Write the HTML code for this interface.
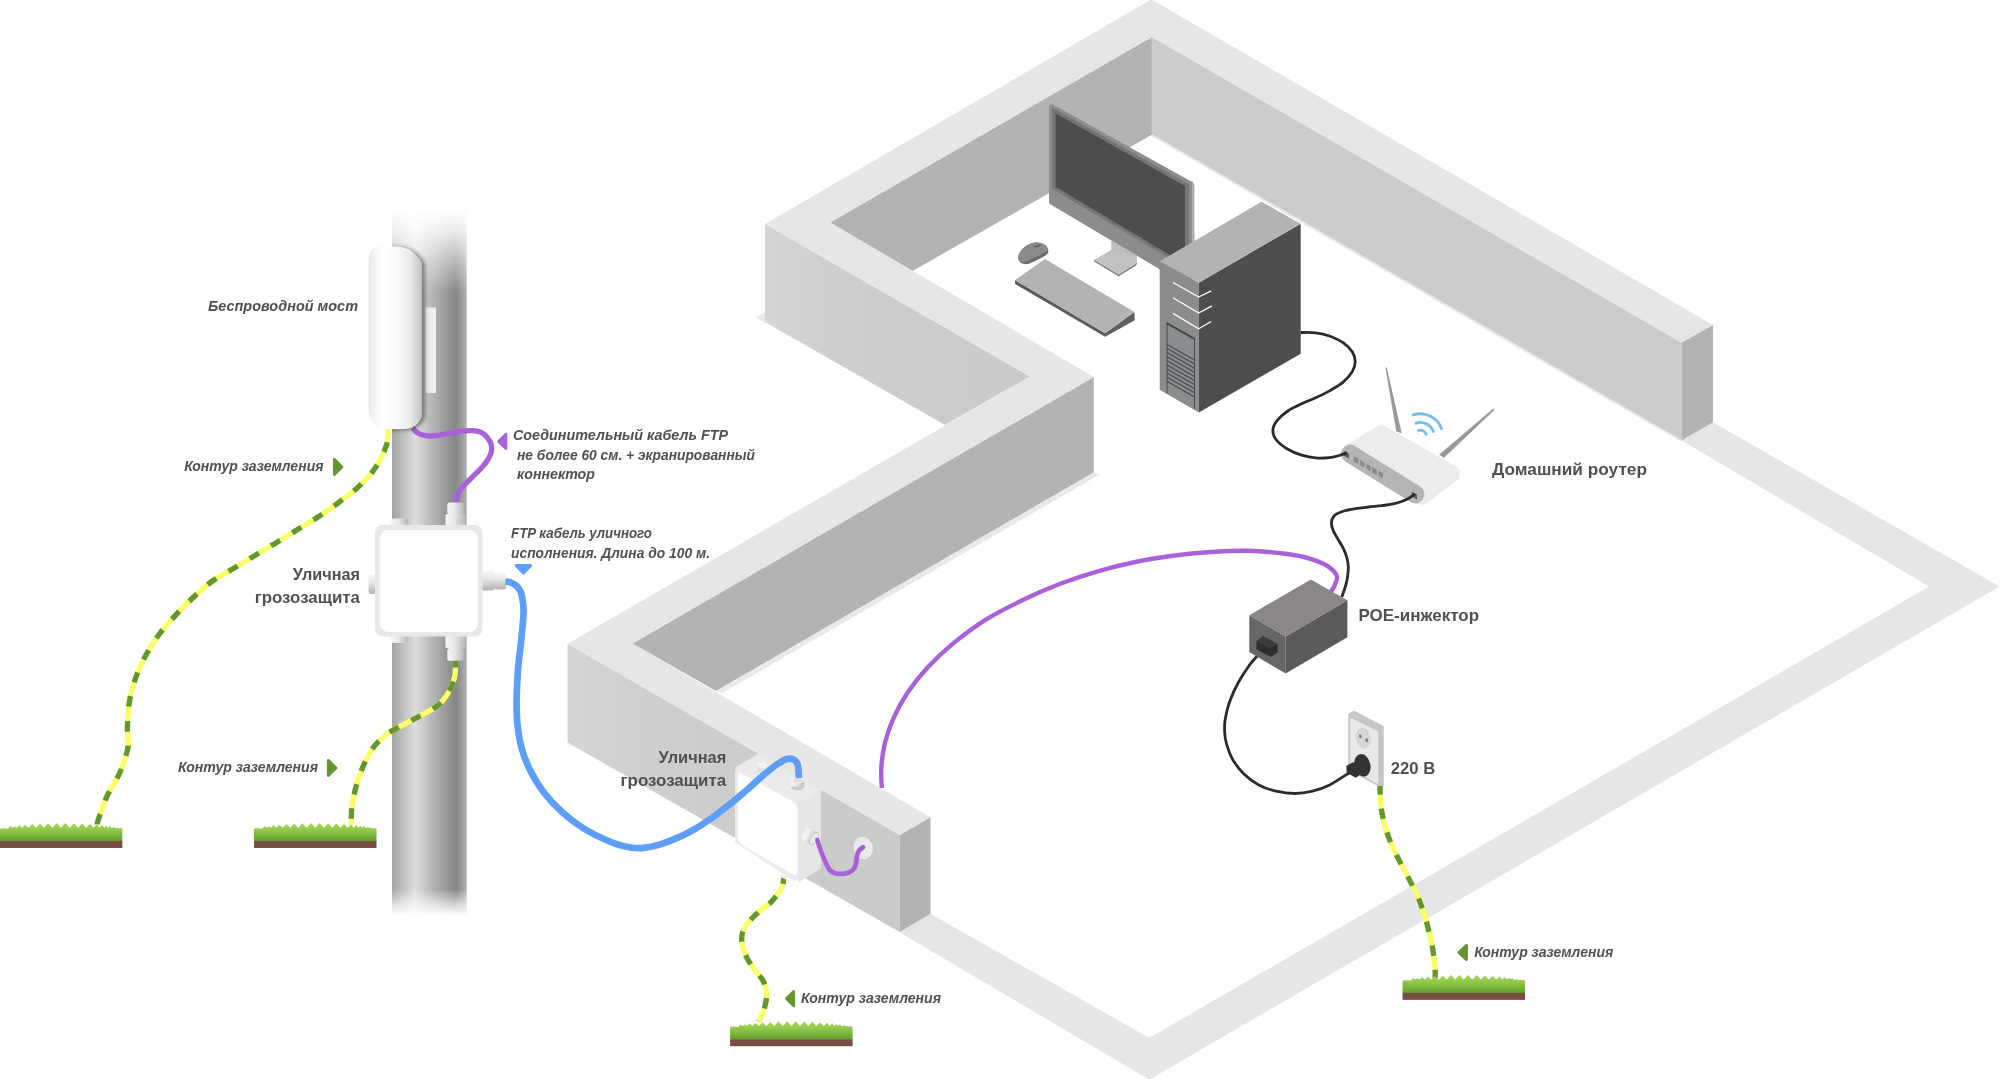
<!DOCTYPE html>
<html><head><meta charset="utf-8"><title>diagram</title>
<style>html,body{margin:0;padding:0;background:#fff;overflow:hidden}svg{display:block}</style></head>
<body>
<svg width="2000" height="1079" viewBox="0 0 2000 1079" font-family="Liberation Sans, sans-serif">
<rect width="2000" height="1079" fill="#ffffff"/>
<g id="walls"><polygon points="899.0,932.0 1149.2,1079.6 1999.5,586.6 1713.0,422.2 1681.5,440.5 1929.2,586.6 1149.2,1037.9 930.5,913.7" fill="#e6e6e6" />
<polygon points="755.8,317.4 765.5,311.8 765.5,323.0" fill="#e9e9e9" />
<polygon points="830.0,222.5 1151.9,37.0 1151.9,134.8 912.5,271.0" fill="#b3b3b3" />
<polygon points="1151.9,37.0 1681.5,342.4 1681.5,440.5 1151.9,134.8" fill="#cccccc" />
<polygon points="1681.5,342.4 1713.0,324.9 1713.0,422.2 1681.5,440.5" fill="#b3b3b3" />
<path d="M1151.9,135.3 L1681.5,441" stroke="#e9e9e9" stroke-width="2" fill="none"/>
<defs><linearGradient id="wc" gradientUnits="userSpaceOnUse" x1="765" x2="1030" y1="0" y2="0"><stop offset="0" stop-color="#d5d5d5"/><stop offset="0.3" stop-color="#cecece"/><stop offset="1" stop-color="#cacaca"/></linearGradient><linearGradient id="we" gradientUnits="userSpaceOnUse" x1="567" x2="900" y1="0" y2="0"><stop offset="0" stop-color="#d5d5d5"/><stop offset="0.3" stop-color="#cecece"/><stop offset="1" stop-color="#cacaca"/></linearGradient></defs>
<polygon points="765.0,224.0 1030.0,376.5 945.0,425.0 765.0,322.0" fill="url(#wc)" />
<polygon points="1093.8,377.0 1093.8,472.4 716.0,691.0 632.5,643.5" fill="#b3b3b3" />
<polygon points="1093.8,472.4 1099.8,474.6 722.0,693.2 716.0,691.0" fill="#e9e9e9" />
<polygon points="567.5,643.7 899.8,835.0 899.8,932.0 567.5,742.5" fill="url(#we)" />
<polygon points="899.8,835.0 930.5,817.3 930.5,913.7 899.8,932.0" fill="#b3b3b3" />
<polygon points="1151.3,-0.6 1713.0,324.9 1681.5,342.4 1151.9,37.0 830.0,222.5 1093.8,377.0 632.5,643.5 930.5,817.3 899.8,835.0 567.5,643.7 1030.0,376.5 765.0,224.0" fill="#e6e6e6" /></g>
<g id="indoor">
<polygon points="1051.5,106.7 1190.1,183.8 1190.1,284.4 1051.5,202.1" fill="#8c8c8c" stroke="#8c8c8c" stroke-width="5" stroke-linejoin="round"/>
<path d="M1191,181.5 Q1193.6,183 1193.6,186.5 L1193.6,288" stroke="#a3a3a3" stroke-width="1.6" fill="none"/>
<polygon points="1052.6,108.2 1188.6,184.8 1188.6,269.3 1052.6,188.5" fill="#737876" stroke="#737876" stroke-width="1" stroke-linejoin="round"/>
<polygon points="1055.6,113.2 1185.0,186.1 1185.0,264.1 1055.6,187.0" fill="#4d4d4d" />
<polygon points="1111.3,240.5 1136.6,255.5 1136.6,263.0 1111.3,250.0" fill="#bdbdbd" />
<path d="M1094.1,259.8 L1094.1,261.4 L1118.7,276.2 L1135.6,265.8 Q1136.8,265 1136.8,263.6 L1136.6,262 L1118.7,274.6 Z" fill="#777777"/>
<path d="M1094.1,259.8 L1111.3,250 L1136.6,255.8 L1136.6,262.2 Q1136.6,263.5 1135.4,264.3 L1118.7,274.7 Z" fill="#c2c2c2"/>
<path d="M1018.3,258.5 C1018,252 1025,244.5 1034,242.8 C1041,241.8 1047.5,245 1048.2,250 L1048.2,252.8 C1046,256.5 1036,260.5 1029,263.8 C1024,265.2 1018.5,262.8 1018.3,258.5 Z" fill="#6b6b6b"/>
<path d="M1018.3,258.5 C1018,252 1025,244.5 1034,242.8 C1041,241.8 1047.5,245 1048.2,250 C1046,253.2 1038,255.5 1032,258.8 C1028,261 1026,262 1023,262 C1020,261.7 1018.5,260.5 1018.3,258.5 Z" fill="#8a8a8a"/>
<path d="M1035,246.8 L1039.8,245.2" stroke="#606060" stroke-width="1.6" stroke-linecap="round"/>
<polygon points="1015.1,280.1 1105.1,333.3 1105.1,336.7 1015.1,284.0" fill="#5a5a5a" />
<polygon points="1105.1,333.3 1134.4,312.0 1134.8,320.3 1105.1,336.7" fill="#5f5f5f" />
<polygon points="1015.1,280.1 1045.0,259.0 1134.4,312.0 1105.1,333.3" fill="#b3b3b3" />
<polygon points="1159.7,261.3 1198.8,282.7 1198.8,412.5 1159.7,389.8" fill="#8c8c8c" />
<polygon points="1198.8,282.7 1300.7,223.7 1300.7,353.7 1198.8,412.5" fill="#4d4d4d" />
<polygon points="1159.7,261.3 1261.5,201.7 1300.7,223.7 1198.8,282.7" fill="#b3b3b3" />
<path d="M1173,282.5 L1198.7,297.1 L1211.2,290.9" stroke="#ffffff" stroke-width="1.3" fill="none"/>
<path d="M1173,297.8 L1198.7,313.1 L1211.9,305.9" stroke="#ffffff" stroke-width="1.3" fill="none"/>
<path d="M1173,313.4 L1198.7,328.7 L1211.2,321.5" stroke="#ffffff" stroke-width="1.3" fill="none"/>
<path d="M1167.1,393.1 L1167.1,322.8 M1194.5,338.4 L1194.5,409.1" stroke="#3b4a52" stroke-width="0.9" fill="none"/>
<path d="M1166.7,323.2 L1194.9,339.2" stroke="#3b4a52" stroke-width="2" fill="none"/>
<path d="M1167.1,344.4 L1194.5,360.0" stroke="#3b4a52" stroke-width="1.15"/>
<path d="M1167.1,348.5 L1194.5,364.1" stroke="#3b4a52" stroke-width="1.15"/>
<path d="M1167.1,352.6 L1194.5,368.2" stroke="#3b4a52" stroke-width="1.15"/>
<path d="M1167.1,356.7 L1194.5,372.3" stroke="#3b4a52" stroke-width="1.15"/>
<path d="M1167.1,360.8 L1194.5,376.4" stroke="#3b4a52" stroke-width="1.15"/>
<path d="M1167.1,364.9 L1194.5,380.5" stroke="#3b4a52" stroke-width="1.15"/>
<path d="M1167.1,369.0 L1194.5,384.6" stroke="#3b4a52" stroke-width="1.15"/>
<path d="M1167.1,373.1 L1194.5,388.7" stroke="#3b4a52" stroke-width="1.15"/>
<path d="M1167.1,377.2 L1194.5,392.8" stroke="#3b4a52" stroke-width="1.15"/>
<path d="M1167.1,381.3 L1194.5,396.9" stroke="#3b4a52" stroke-width="1.15"/>
<polygon points="1385.4,367.8 1386.8,367.6 1401.8,433.6 1396.2,431.2" fill="#999999" />
<polygon points="1493.4,408.4 1494.6,409.8 1443.8,458.0 1439.2,454.6" fill="#999999" />
<polygon points="1350.5,447.8 1381.5,429.8 1454.5,471.3 1454.5,476.0 1423.0,499.8 1350.5,458.0" fill="#ebeceb" stroke="#ebeceb" stroke-width="10" stroke-linejoin="round"/>
<path d="M1350,453.7 L1415.3,494.3" stroke="#b5b5b5" stroke-width="18.2" stroke-linecap="round" fill="none"/>
<polygon points="1353.8,456.2 1358.4,458.8 1358.4,464.2 1353.8,461.6" fill="#8c8c8c" />
<polygon points="1360.0,459.8 1364.5,462.4 1364.5,467.8 1360.0,465.2" fill="#8c8c8c" />
<polygon points="1366.1,463.4 1370.7,466.0 1370.7,471.4 1366.1,468.8" fill="#8c8c8c" />
<polygon points="1372.2,467.0 1376.8,469.6 1376.8,475.0 1372.2,472.4" fill="#8c8c8c" />
<polygon points="1378.4,470.6 1383.0,473.2 1383.0,478.6 1378.4,476.0" fill="#8c8c8c" />
<polygon points="1343.8,451.2 1349.0,454.0 1349.0,458.6 1343.8,455.8" fill="#5a5a5a" />
<polygon points="1411.8,491.8 1417.0,494.6 1417.0,499.4 1411.8,496.6" fill="#5a5a5a" />
<path d="M1418.4,430.4 A6.3,6.3 0 0 1 1426.2,434.2" stroke="#72bff0" stroke-width="2.8" stroke-linecap="round" fill="none"/>
<path d="M1416.0,423.2 A13.9,13.9 0 0 1 1433.4,431.6" stroke="#72bff0" stroke-width="2.8" stroke-linecap="round" fill="none"/>
<path d="M1413.3,414.9 A22.6,22.6 0 0 1 1441.5,428.7" stroke="#72bff0" stroke-width="2.8" stroke-linecap="round" fill="none"/>
<path d="M1330.5,592.0 C1331.1,591.0 1333.1,588.9 1334.2,586.3 C1335.3,583.7 1337.9,579.6 1336.9,576.3 C1335.9,573.0 1332.4,569.2 1328.0,566.3 C1323.6,563.4 1317.6,560.9 1310.5,558.8 C1303.4,556.7 1295.8,555.1 1285.4,553.8 C1275.0,552.5 1260.4,551.1 1247.9,550.8 C1235.4,550.5 1222.9,551.2 1210.4,552.0 C1197.9,552.8 1185.3,554.1 1172.8,555.8 C1160.3,557.5 1147.8,559.4 1135.3,562.0 C1122.8,564.6 1110.2,567.7 1097.7,571.3 C1085.2,574.9 1072.7,579.0 1060.2,583.8 C1047.7,588.6 1035.2,594.0 1022.7,600.1 C1010.2,606.2 996.8,612.8 985.1,620.1 C973.4,627.4 962.2,636.0 952.6,643.9 C943.0,651.8 935.1,659.5 927.6,667.6 C920.1,675.7 913.1,684.4 907.5,692.7 C901.9,701.1 897.5,709.4 893.8,717.7 C890.0,726.0 887.1,734.4 885.0,742.7 C882.9,751.0 881.8,760.2 881.3,767.7 C880.8,775.2 881.7,784.6 881.8,788.0" stroke="#a961da" stroke-width="4.4" fill="none"/>
<path d="M1300.5,332.5 C1303.0,332.6 1310.8,332.2 1315.6,332.8 C1320.4,333.4 1324.9,334.3 1329.5,336.0 C1334.1,337.7 1339.6,340.2 1343.4,342.9 C1347.2,345.6 1350.4,348.9 1352.4,352.0 C1354.4,355.1 1355.2,358.5 1355.2,361.7 C1355.2,364.9 1354.4,368.0 1352.4,371.4 C1350.4,374.8 1347.2,378.6 1343.4,381.9 C1339.6,385.1 1334.1,388.2 1329.5,390.9 C1324.9,393.5 1320.2,395.7 1315.6,397.8 C1311.0,399.9 1306.3,401.5 1301.7,403.7 C1297.1,405.9 1291.8,408.3 1287.8,411.0 C1283.8,413.7 1279.9,417.0 1277.4,420.1 C1274.9,423.2 1273.1,426.6 1272.9,429.8 C1272.7,433.0 1273.5,436.2 1276.0,439.5 C1278.5,442.8 1283.5,446.7 1287.8,449.3 C1292.1,451.9 1297.1,453.7 1301.7,455.1 C1306.3,456.5 1311.0,457.5 1315.6,457.9 C1320.2,458.3 1325.6,458.0 1329.5,457.6 C1333.4,457.2 1336.3,456.4 1339.2,455.5 C1342.1,454.6 1345.7,453.0 1347.0,452.5" stroke="#2b2b2b" stroke-width="2.8" fill="none"/><path d="M1415.0,493.8 C1413.5,494.8 1409.5,498.2 1406.0,499.8 C1402.5,501.4 1398.4,502.7 1394.3,503.7 C1390.2,504.7 1385.7,505.1 1381.4,505.7 C1377.1,506.2 1372.7,506.5 1368.4,507.0 C1364.1,507.5 1359.7,507.9 1355.4,508.7 C1351.1,509.4 1346.0,510.3 1342.4,511.5 C1338.8,512.7 1335.8,514.0 1334.0,516.0 C1332.2,518.0 1331.5,520.7 1331.4,523.2 C1331.3,525.7 1332.2,528.2 1333.4,531.0 C1334.6,533.8 1336.8,537.0 1338.5,540.0 C1340.2,543.0 1342.3,546.2 1343.7,549.2 C1345.1,552.2 1346.2,555.2 1347.0,558.2 C1347.8,561.2 1348.2,564.3 1348.3,567.3 C1348.4,570.3 1348.0,573.4 1347.6,576.4 C1347.2,579.4 1346.7,582.1 1345.7,585.5 C1344.7,588.9 1342.5,595.1 1341.8,597.0" stroke="#2b2b2b" stroke-width="2.8" fill="none"/><path d="M1259.6,653.4 C1257.9,655.4 1253.0,660.4 1249.4,665.2 C1245.9,670.1 1241.6,676.5 1238.3,682.5 C1235.0,688.5 1231.9,695.4 1229.7,701.4 C1227.5,707.4 1226.2,713.7 1225.3,718.7 C1224.4,723.7 1224.4,727.1 1224.6,731.3 C1224.8,735.5 1225.1,739.2 1226.5,743.9 C1227.9,748.6 1229.9,754.7 1232.8,759.7 C1235.7,764.7 1239.6,769.7 1243.9,773.9 C1248.2,778.1 1253.4,782.0 1258.8,784.9 C1264.2,787.8 1270.1,789.8 1276.1,791.2 C1282.1,792.6 1289.0,793.5 1295.0,793.5 C1301.0,793.5 1306.6,792.6 1312.4,791.2 C1318.2,789.8 1323.6,787.9 1329.7,784.9 C1335.8,781.9 1345.8,775.0 1349.0,773.0" stroke="#2b2b2b" stroke-width="2.8" fill="none"/>
<polygon points="1249.3,615.2 1285.6,636.5 1285.6,673.6 1249.3,652.1" fill="#666666" />
<polygon points="1285.6,636.5 1347.4,600.2 1347.4,637.3 1285.6,673.6" fill="#5a5a5a" />
<polygon points="1249.3,615.2 1310.8,579.4 1347.4,600.2 1285.6,636.5" fill="#8a8786" />
<polygon points="1256.4,641.5 1263.0,636.3 1277.6,644.0 1277.6,652.8 1270.6,656.8 1256.4,649.3" fill="#2e2e2e" />
<polygon points="1256.4,641.5 1263.0,636.3 1277.6,644.0 1270.6,648.6" fill="#3c3c3c" />
<polygon points="1350.5,715.2 1353.8,713.0 1381.5,727.6 1381.5,785.4 1350.5,768.8" fill="#c6c6c6" stroke="#c6c6c6" stroke-width="4.5" stroke-linejoin="round"/>
<polygon points="1351.7,719.8 1376.8,732.6 1376.8,782.0 1351.7,767.5" fill="#e8e8e8" stroke="#e8e8e8" stroke-width="3" stroke-linejoin="round"/>
<ellipse cx="1363.3" cy="738.2" rx="7.4" ry="10.3" fill="#d6d6d6" transform="rotate(-10 1363.3 738.2)"/>
<ellipse cx="1360.3" cy="736.3" rx="1.3" ry="1.9" fill="#7a7a7a" transform="rotate(-20 1360.3 736.3)"/><ellipse cx="1366.7" cy="740.2" rx="1.3" ry="1.9" fill="#7a7a7a" transform="rotate(-20 1366.7 740.2)"/>
<ellipse cx="1362.4" cy="765.3" rx="8" ry="11.4" fill="#333333" transform="rotate(-12 1362.4 765.3)"/>
<polygon points="1346.3,766.0 1352.8,762.2 1360.0,765.5 1359.0,775.6 1355.8,777.8 1346.7,772.8" fill="#333333" />
</g>
<g id="wallbox">
<defs><linearGradient id="wcg" x1="0" x2="1" y1="0" y2="0">
<stop offset="0" stop-color="#f6f6f6"/><stop offset="0.45" stop-color="#e4e4e4"/><stop offset="1" stop-color="#bcbcbc"/>
</linearGradient></defs>
<ellipse cx="863.3" cy="848" rx="9.6" ry="11.2" fill="#ebebeb" transform="rotate(-12 863.3 848)"/>
<polygon points="737.5,767.5 758.6,755.0 820.0,790.8 798.0,803.5" fill="#eaeaea" stroke="#eaeaea" stroke-width="2.5" stroke-linejoin="round"/>
<polygon points="798.0,804.4 820.0,791.2 820.0,868.0 799.0,881.0" fill="#e6e6e6" stroke="#e6e6e6" stroke-width="2" stroke-linejoin="round"/>
<rect x="757.2" y="765" width="10.2" height="5" fill="#e2e2e2"/>
<ellipse cx="762.3" cy="770" rx="5.1" ry="2.4" fill="#e2e2e2"/>
<ellipse cx="762.3" cy="765.3" rx="5.1" ry="2.9" fill="#f4f4f4"/>
<polygon points="738.5,771.0 794.5,803.5 794.5,877.0 738.5,840.5" fill="#ebebeb" stroke="#ebebeb" stroke-width="7" stroke-linejoin="round"/>
<path d="M738.2,776.5 Q738.2,771.5 742,773.8 L792.5,801.3 Q797.6,804.3 797.6,810 L797.6,869.5 Q797.6,877.5 791.5,873.5 L744,846.5 Q738.2,843 738.2,836.5 Z" fill="#ffffff"/>
<ellipse cx="783.5" cy="876.5" rx="3.6" ry="2" fill="#ededed"/>
<ellipse cx="797.6" cy="786.8" rx="6.6" ry="3.4" fill="#c9c9c9"/>
<rect x="791" y="780" width="13.2" height="6.8" fill="url(#wcg)"/>
<ellipse cx="797.6" cy="780" rx="6.6" ry="3.4" fill="#f0f0f0"/>
<ellipse cx="797.6" cy="780.2" rx="4.6" ry="2.3" fill="#dcdcdc"/>
<g transform="rotate(28 811 837)"><rect x="804.5" y="830.2" width="10" height="13.6" rx="1.5" fill="url(#wcg)"/><ellipse cx="814.5" cy="837" rx="3.4" ry="6.8" fill="#e9e9e9" stroke="#c2c2c2" stroke-width="0.8"/><ellipse cx="805" cy="837" rx="3" ry="6.8" fill="#f2f2f2"/></g>
<path d="M817.3,840.1 C818.1,842.5 820.1,849.3 822.3,854.4 C824.5,859.5 827.1,867.5 830.5,870.7 C833.9,873.9 838.8,874.1 842.7,873.8 C846.6,873.5 851.5,872.3 854.0,868.7 C856.5,865.1 856.5,855.9 858.0,852.3 C859.5,848.7 862.2,848.1 863.1,847.3" stroke="#a961da" stroke-width="4.7" fill="none" stroke-linecap="round"/>
</g>
<g id="pole"><defs>
<linearGradient id="poleg" x1="0" x2="1" y1="0" y2="0">
<stop offset="0" stop-color="#a3a3a3"/>
<stop offset="0.12" stop-color="#b9b9b9"/>
<stop offset="0.31" stop-color="#dedede"/>
<stop offset="0.50" stop-color="#bcbcbc"/>
<stop offset="0.845" stop-color="#868686"/>
<stop offset="0.93" stop-color="#9a9a9a"/>
<stop offset="1" stop-color="#b0b0b0"/>
</linearGradient>
<linearGradient id="polem" x1="0" x2="0" y1="209" y2="916" gradientUnits="userSpaceOnUse">
<stop offset="0" stop-color="#000"/>
<stop offset="0.03" stop-color="#2a2a2a"/>
<stop offset="0.075" stop-color="#9a9a9a"/>
<stop offset="0.118" stop-color="#fff"/>
<stop offset="0.962" stop-color="#fff"/>
<stop offset="0.985" stop-color="#555"/>
<stop offset="1" stop-color="#000"/>
</linearGradient>
<mask id="polemask" maskUnits="userSpaceOnUse" x="380" y="200" width="100" height="730">
<rect x="380" y="200" width="100" height="730" fill="url(#polem)"/>
</mask>
</defs>
<rect x="392" y="209" width="74.7" height="707" fill="url(#poleg)" mask="url(#polemask)"/></g>
<g id="cables" stroke-linecap="butt">
<path d="M412.5,428.0 C413.5,428.9 415.9,432.2 418.5,433.5 C421.1,434.8 424.7,435.6 427.8,435.9 C430.9,436.2 433.7,435.8 437.1,435.4 C440.5,435.0 444.4,434.1 448.2,433.5 C452.0,432.9 456.2,432.0 460.2,431.5 C464.2,431.0 468.9,430.5 472.3,430.6 C475.7,430.7 478.1,431.0 480.6,432.1 C483.1,433.2 485.3,435.1 487.1,437.2 C488.9,439.3 490.6,442.2 491.3,444.7 C492.0,447.2 491.9,449.6 491.3,452.1 C490.8,454.6 489.6,456.9 488.0,459.5 C486.4,462.1 484.1,465.0 481.6,467.8 C479.1,470.6 476.0,473.4 473.2,476.2 C470.4,479.0 467.4,481.7 464.9,484.5 C462.4,487.3 460.0,489.7 458.4,492.9 C456.8,496.1 455.9,501.7 455.4,503.5" stroke="#a961da" stroke-width="5.3" fill="none"/>
<path d="M388.5,428.0 C388.1,431.1 388.4,439.8 386.0,446.7 C383.6,453.6 379.0,462.4 374.3,469.2 C369.6,476.0 363.6,482.0 357.6,487.6 C351.6,493.2 345.0,497.8 338.5,502.6 C332.0,507.5 325.3,512.1 318.4,516.7 C311.4,521.3 304.0,525.7 296.8,530.1 C289.6,534.5 282.2,539.1 275.1,543.4 C268.0,547.7 261.1,551.7 254.2,555.9 C247.2,560.1 240.3,564.3 233.4,568.5 C226.5,572.7 219.2,576.2 212.5,581.0 C205.8,585.8 199.6,591.5 193.4,597.3 C187.2,603.1 180.9,609.4 175.2,615.6 C169.5,621.8 163.9,627.8 159.0,634.5 C154.1,641.2 149.5,648.4 145.6,655.6 C141.7,662.8 138.3,670.2 135.6,677.9 C132.9,685.6 130.8,693.8 129.4,701.9 C128.0,710.0 127.6,719.6 127.4,726.8 C127.2,734.0 128.8,739.5 128.3,745.0 C127.8,750.5 126.1,755.1 124.5,760.0 C122.9,764.9 121.9,768.5 118.9,774.6 C115.9,780.8 110.1,789.5 106.7,796.9 C103.3,804.3 100.1,814.4 98.5,819.1 C96.9,823.8 97.4,824.0 97.2,825.0" stroke="#fdfd66" stroke-width="5.3" fill="none"/><path d="M388.5,428.0 C388.1,431.1 388.4,439.8 386.0,446.7 C383.6,453.6 379.0,462.4 374.3,469.2 C369.6,476.0 363.6,482.0 357.6,487.6 C351.6,493.2 345.0,497.8 338.5,502.6 C332.0,507.5 325.3,512.1 318.4,516.7 C311.4,521.3 304.0,525.7 296.8,530.1 C289.6,534.5 282.2,539.1 275.1,543.4 C268.0,547.7 261.1,551.7 254.2,555.9 C247.2,560.1 240.3,564.3 233.4,568.5 C226.5,572.7 219.2,576.2 212.5,581.0 C205.8,585.8 199.6,591.5 193.4,597.3 C187.2,603.1 180.9,609.4 175.2,615.6 C169.5,621.8 163.9,627.8 159.0,634.5 C154.1,641.2 149.5,648.4 145.6,655.6 C141.7,662.8 138.3,670.2 135.6,677.9 C132.9,685.6 130.8,693.8 129.4,701.9 C128.0,710.0 127.6,719.6 127.4,726.8 C127.2,734.0 128.8,739.5 128.3,745.0 C127.8,750.5 126.1,755.1 124.5,760.0 C122.9,764.9 121.9,768.5 118.9,774.6 C115.9,780.8 110.1,789.5 106.7,796.9 C103.3,804.3 100.1,814.4 98.5,819.1 C96.9,823.8 97.4,824.0 97.2,825.0" stroke="#629730" stroke-width="5.3" fill="none" stroke-dasharray="10.6 14.2" stroke-dashoffset="10.6"/>
<path d="M455.5,657.2 C455.5,658.5 455.6,661.7 455.5,665.0 C455.4,668.3 455.4,673.2 454.6,677.1 C453.8,681.0 452.4,684.7 450.5,688.6 C448.6,692.5 445.9,697.0 443.1,700.3 C440.3,703.6 439.0,704.9 433.8,708.2 C428.6,711.5 419.4,716.2 412.1,720.1 C404.9,724.0 395.6,728.5 390.3,731.8 C385.0,735.1 383.1,737.3 380.1,740.1 C377.2,742.9 374.9,745.2 372.6,748.5 C370.3,751.8 368.1,756.0 366.2,759.6 C364.3,763.2 363.1,766.3 361.5,770.3 C359.9,774.3 358.1,779.6 356.9,783.7 C355.7,787.8 354.9,790.9 354.1,794.8 C353.3,798.7 352.4,802.9 351.9,806.9 C351.4,810.9 351.4,815.8 351.3,818.9 C351.2,822.0 351.3,824.3 351.3,825.4" stroke="#fdfd66" stroke-width="5.3" fill="none"/><path d="M455.5,657.2 C455.5,658.5 455.6,661.7 455.5,665.0 C455.4,668.3 455.4,673.2 454.6,677.1 C453.8,681.0 452.4,684.7 450.5,688.6 C448.6,692.5 445.9,697.0 443.1,700.3 C440.3,703.6 439.0,704.9 433.8,708.2 C428.6,711.5 419.4,716.2 412.1,720.1 C404.9,724.0 395.6,728.5 390.3,731.8 C385.0,735.1 383.1,737.3 380.1,740.1 C377.2,742.9 374.9,745.2 372.6,748.5 C370.3,751.8 368.1,756.0 366.2,759.6 C364.3,763.2 363.1,766.3 361.5,770.3 C359.9,774.3 358.1,779.6 356.9,783.7 C355.7,787.8 354.9,790.9 354.1,794.8 C353.3,798.7 352.4,802.9 351.9,806.9 C351.4,810.9 351.4,815.8 351.3,818.9 C351.2,822.0 351.3,824.3 351.3,825.4" stroke="#629730" stroke-width="5.3" fill="none" stroke-dasharray="10.5 14" stroke-dashoffset="0"/>
<path d="M783.8,878.5 C783.4,880.0 783.5,884.1 781.6,887.8 C779.7,891.5 775.5,897.2 772.3,900.8 C769.0,904.3 765.4,906.3 762.1,909.1 C758.9,911.9 755.7,914.4 752.8,917.5 C749.9,920.6 746.4,924.3 744.5,927.7 C742.6,931.1 741.9,934.2 741.7,937.9 C741.6,941.6 742.5,946.0 743.6,949.9 C744.8,953.8 746.5,957.3 748.6,961.0 C750.8,964.7 754.0,968.8 756.5,972.2 C759.0,975.6 761.7,977.9 763.4,981.4 C765.1,984.9 766.5,989.3 766.7,993.5 C767.0,997.7 765.8,1002.6 764.9,1006.5 C764.0,1010.4 762.2,1014.2 761.2,1016.7 C760.2,1019.2 759.0,1020.8 758.6,1021.6" stroke="#fdfd66" stroke-width="5.3" fill="none"/><path d="M783.8,878.5 C783.4,880.0 783.5,884.1 781.6,887.8 C779.7,891.5 775.5,897.2 772.3,900.8 C769.0,904.3 765.4,906.3 762.1,909.1 C758.9,911.9 755.7,914.4 752.8,917.5 C749.9,920.6 746.4,924.3 744.5,927.7 C742.6,931.1 741.9,934.2 741.7,937.9 C741.6,941.6 742.5,946.0 743.6,949.9 C744.8,953.8 746.5,957.3 748.6,961.0 C750.8,964.7 754.0,968.8 756.5,972.2 C759.0,975.6 761.7,977.9 763.4,981.4 C765.1,984.9 766.5,989.3 766.7,993.5 C767.0,997.7 765.8,1002.6 764.9,1006.5 C764.0,1010.4 762.2,1014.2 761.2,1016.7 C760.2,1019.2 759.0,1020.8 758.6,1021.6" stroke="#629730" stroke-width="5.3" fill="none" stroke-dasharray="10.5 14" stroke-dashoffset="5"/>
<path d="M1380.0,786.0 C1380.1,788.5 1380.1,796.4 1380.5,801.1 C1380.9,805.9 1381.5,810.2 1382.3,814.5 C1383.1,818.8 1384.1,822.8 1385.2,826.7 C1386.3,830.6 1387.5,834.2 1388.9,837.9 C1390.3,841.6 1391.7,845.3 1393.4,849.0 C1395.1,852.7 1397.1,856.4 1399.0,860.1 C1400.9,863.8 1403.0,867.5 1405.0,871.2 C1407.0,874.9 1408.7,878.5 1410.7,882.3 C1412.7,886.1 1415.0,890.3 1416.8,894.1 C1418.5,897.9 1419.8,901.5 1421.2,905.3 C1422.6,909.1 1424.0,912.8 1425.2,916.8 C1426.4,920.8 1427.3,925.0 1428.3,929.1 C1429.3,933.2 1430.3,937.2 1431.2,941.3 C1432.1,945.4 1432.8,949.4 1433.4,953.5 C1434.0,957.6 1434.7,961.7 1435.0,965.8 C1435.3,969.9 1435.2,976.0 1435.2,978.0" stroke="#fdfd66" stroke-width="5.3" fill="none"/><path d="M1380.0,786.0 C1380.1,788.5 1380.1,796.4 1380.5,801.1 C1380.9,805.9 1381.5,810.2 1382.3,814.5 C1383.1,818.8 1384.1,822.8 1385.2,826.7 C1386.3,830.6 1387.5,834.2 1388.9,837.9 C1390.3,841.6 1391.7,845.3 1393.4,849.0 C1395.1,852.7 1397.1,856.4 1399.0,860.1 C1400.9,863.8 1403.0,867.5 1405.0,871.2 C1407.0,874.9 1408.7,878.5 1410.7,882.3 C1412.7,886.1 1415.0,890.3 1416.8,894.1 C1418.5,897.9 1419.8,901.5 1421.2,905.3 C1422.6,909.1 1424.0,912.8 1425.2,916.8 C1426.4,920.8 1427.3,925.0 1428.3,929.1 C1429.3,933.2 1430.3,937.2 1431.2,941.3 C1432.1,945.4 1432.8,949.4 1433.4,953.5 C1434.0,957.6 1434.7,961.7 1435.0,965.8 C1435.3,969.9 1435.2,976.0 1435.2,978.0" stroke="#629730" stroke-width="5.3" fill="none" stroke-dasharray="10.5 14" stroke-dashoffset="2"/>
</g>
<g id="bridge"><defs>
<linearGradient id="brg" x1="0" x2="1" y1="0" y2="0">
<stop offset="0" stop-color="#e6e6e6"/>
<stop offset="0.06" stop-color="#f1f1f1"/>
<stop offset="0.26" stop-color="#ffffff"/>
<stop offset="0.55" stop-color="#f8f8f8"/>
<stop offset="0.78" stop-color="#ececec"/>
<stop offset="0.93" stop-color="#cfcfcf"/>
<stop offset="1" stop-color="#c2c2c2"/>
</linearGradient>
<linearGradient id="brsh" x1="0" x2="1" y1="0" y2="0">
<stop offset="0" stop-color="#000" stop-opacity="0.4"/>
<stop offset="1" stop-color="#000" stop-opacity="0"/>
</linearGradient>
</defs>
<rect x="425.6" y="307.5" width="10.4" height="85.5" fill="#efefef"/>
<clipPath id="poleclip"><rect x="392" y="209" width="74.7" height="707"/></clipPath>
<filter id="blur2" x="-50%" y="-10%" width="200%" height="120%"><feGaussianBlur stdDeviation="2"/></filter>
<g clip-path="url(#poleclip)"><path transform="translate(3.2,0.8)" d="M368.7,260 Q368.7,246.3 382,246.3 L399.5,246.8 Q408,247.5 414,253 Q420,258.3 421.9,263 L421.9,415.5 Q420.5,421 416,425 Q410,429.3 401,429.3 L386,429.1 Q377,428.5 372.5,422 Q368.7,417 368.7,410 Z" fill="#000" opacity="0.42" filter="url(#blur2)"/></g>
<path d="M368.7,260 Q368.7,246.3 382,246.3 L399.5,246.8 Q408,247.5 414,253 Q420,258.3 421.9,263 L421.9,415.5 Q420.5,421 416,425 Q410,429.3 401,429.3 L386,429.1 Q377,428.5 372.5,422 Q368.7,417 368.7,410 Z" fill="url(#brg)"/></g>
<g id="pbox"><defs>
<linearGradient id="cg" x1="0" x2="1" y1="0" y2="0">
<stop offset="0" stop-color="#f6f6f6"/><stop offset="0.4" stop-color="#e9e9e9"/><stop offset="1" stop-color="#b8b8b8"/>
</linearGradient>
<linearGradient id="cgh" x1="0" x2="0" y1="0" y2="1">
<stop offset="0" stop-color="#f6f6f6"/><stop offset="0.4" stop-color="#e6e6e6"/><stop offset="1" stop-color="#b4b4b4"/>
</linearGradient>
</defs>
<rect x="447.3" y="502.5" width="16.5" height="12" rx="2.5" fill="url(#cg)"/>
<rect x="445.5" y="514" width="20" height="12" rx="1.5" fill="url(#cg)"/>
<rect x="390.8" y="518.5" width="17.6" height="8" rx="3" fill="url(#cg)"/>
<rect x="390.8" y="635" width="17.6" height="8" rx="3" fill="url(#cg)"/>
<rect x="368.5" y="574.5" width="8" height="19.5" rx="3" fill="url(#cgh)"/>
<rect x="481" y="571" width="13" height="19.5" rx="1.5" fill="url(#cgh)"/>
<rect x="494" y="572.5" width="12" height="17" rx="2.5" fill="url(#cgh)"/>
<rect x="445.5" y="635" width="20" height="13" rx="1.5" fill="url(#cg)"/>
<rect x="447.3" y="648" width="16.5" height="12.8" rx="2.5" fill="url(#cg)"/>
<rect x="375" y="525" width="107.5" height="111.6" rx="8" fill="#e8e8e8"/>
<rect x="379.7" y="530" width="98.2" height="102" rx="8.5" fill="#ffffff"/></g>
<path d="M505.5,581.6 C506.3,581.7 508.8,581.8 510.5,582.4 C512.2,583.0 514.1,584.0 515.6,585.2 C517.1,586.4 518.5,587.9 519.5,589.6 C520.5,591.3 521.1,592.0 521.8,595.5 C522.5,599.0 523.6,603.4 523.6,610.4 C523.6,617.4 522.4,627.3 521.5,637.2 C520.6,647.1 518.8,659.4 518.0,669.8 C517.2,680.2 516.7,690.3 516.6,699.5 C516.5,708.7 516.6,716.9 517.5,725.0 C518.4,733.1 519.6,740.8 521.7,748.3 C523.8,755.8 526.4,762.8 530.0,770.0 C533.6,777.2 538.0,784.8 543.3,791.7 C548.6,798.7 555.0,805.6 561.7,811.7 C568.4,817.8 575.8,823.5 583.3,828.3 C590.8,833.1 600.2,837.4 606.7,840.3 C613.2,843.2 616.8,844.5 622.0,845.8 C627.2,847.1 632.7,848.2 638.0,848.2 C643.3,848.2 648.7,847.2 654.0,846.0 C659.3,844.8 664.0,843.2 670.0,840.8 C676.0,838.4 683.3,835.3 690.0,831.7 C696.7,828.1 703.3,823.8 710.0,819.2 C716.7,814.6 723.9,809.1 730.0,804.2 C736.1,799.3 741.7,794.3 746.7,790.0 C751.7,785.7 756.2,781.5 759.8,778.3 C763.4,775.1 765.5,773.4 768.5,771.0 C771.5,768.6 774.9,765.8 777.9,763.8 C780.9,761.8 783.7,760.0 786.2,759.2 C788.8,758.4 791.3,758.3 793.2,759.2 C795.1,760.1 796.7,761.4 797.7,764.5 C798.7,767.6 798.8,775.8 799.0,778.0" stroke="#5c9efa" stroke-width="6.7" fill="none"/>
<defs><linearGradient id="grg" x1="0" x2="0" y1="0" y2="1">
<stop offset="0" stop-color="#a6d559"/><stop offset="0.4" stop-color="#92c84a"/><stop offset="1" stop-color="#5f9f2f"/>
</linearGradient></defs>
<path d="M-0.2,841.3 L-0.2,828.7 L2.8,828.3 L8.0,828.7 L10.4,826.1 L12.5,827.7 L14.6,826.4 L16.9,827.7 L19.2,825.1 L22.1,827.7 L25.0,824.8 L28.6,827.7 L32.2,824.1 L36.1,827.7 L40.0,823.8 L44.0,827.7 L48.1,823.2 L52.5,827.7 L56.9,823.0 L61.1,827.7 L65.3,823.0 L69.7,827.7 L74.1,823.2 L78.1,827.7 L82.2,823.5 L86.1,827.7 L90.0,824.0 L93.4,827.7 L96.8,824.5 L99.5,827.7 L102.1,825.1 L104.2,827.7 L106.3,825.8 L108.0,827.7 L109.6,826.1 L111.8,828.0 L114.1,827.1 L115.7,828.2 L117.4,827.7 L119.0,828.4 L120.6,828.0 L122.3,828.7 L122.3,841.3 Z" fill="url(#grg)"/><rect x="-0.2" y="841.0" width="122.5" height="7" fill="#774e44"/>
<path d="M254.0,841.3 L254.0,828.7 L257.0,828.3 L262.2,828.7 L264.6,826.1 L266.7,827.7 L268.8,826.4 L271.1,827.7 L273.4,825.1 L276.3,827.7 L279.2,824.8 L282.8,827.7 L286.4,824.1 L290.3,827.7 L294.2,823.8 L298.2,827.7 L302.3,823.2 L306.7,827.7 L311.1,823.0 L315.3,827.7 L319.5,823.0 L323.9,827.7 L328.3,823.2 L332.4,827.7 L336.4,823.5 L340.3,827.7 L344.2,824.0 L347.6,827.7 L351.0,824.5 L353.6,827.7 L356.3,825.1 L358.4,827.7 L360.5,825.8 L362.1,827.7 L363.8,826.1 L366.1,828.0 L368.3,827.1 L369.9,828.2 L371.6,827.7 L373.2,828.4 L374.8,828.0 L376.5,828.7 L376.5,841.3 Z" fill="url(#grg)"/><rect x="254.0" y="841.0" width="122.5" height="7" fill="#774e44"/>
<path d="M730.1,1039.5 L730.1,1026.9 L733.1,1026.5 L738.3,1026.9 L740.7,1024.3 L742.8,1025.9 L744.9,1024.6 L747.2,1025.9 L749.5,1023.3 L752.4,1025.9 L755.3,1023.0 L758.9,1025.9 L762.5,1022.3 L766.4,1025.9 L770.3,1022.0 L774.4,1025.9 L778.4,1021.4 L782.8,1025.9 L787.2,1021.2 L791.4,1025.9 L795.6,1021.2 L800.0,1025.9 L804.4,1021.4 L808.5,1025.9 L812.5,1021.7 L816.4,1025.9 L820.3,1022.2 L823.7,1025.9 L827.1,1022.7 L829.8,1025.9 L832.4,1023.3 L834.5,1025.9 L836.6,1024.0 L838.2,1025.9 L839.9,1024.3 L842.1,1026.2 L844.4,1025.3 L846.0,1026.4 L847.7,1025.9 L849.3,1026.6 L850.9,1026.2 L852.6,1026.9 L852.6,1039.5 Z" fill="url(#grg)"/><rect x="730.1" y="1039.2" width="122.5" height="7" fill="#774e44"/>
<path d="M1402.5,993.2 L1402.5,980.6 L1405.5,980.2 L1410.7,980.6 L1413.1,978.0 L1415.2,979.6 L1417.3,978.3 L1419.6,979.6 L1421.9,977.0 L1424.8,979.6 L1427.7,976.7 L1431.3,979.6 L1434.9,976.0 L1438.8,979.6 L1442.7,975.7 L1446.8,979.6 L1450.8,975.1 L1455.2,979.6 L1459.6,974.9 L1463.8,979.6 L1468.0,974.9 L1472.4,979.6 L1476.8,975.1 L1480.8,979.6 L1484.9,975.4 L1488.8,979.6 L1492.7,975.9 L1496.1,979.6 L1499.5,976.4 L1502.2,979.6 L1504.8,977.0 L1506.9,979.6 L1509.0,977.7 L1510.7,979.6 L1512.3,978.0 L1514.5,979.9 L1516.8,979.0 L1518.5,980.1 L1520.1,979.6 L1521.7,980.3 L1523.3,979.9 L1525.0,980.6 L1525.0,993.2 Z" fill="url(#grg)"/><rect x="1402.5" y="992.9" width="122.5" height="7" fill="#774e44"/>
<g id="text" fill="#505050" font-weight="bold" opacity="0.999">
<text x="208" y="311.3" font-size="15.5" textLength="150" lengthAdjust="spacingAndGlyphs" text-anchor="start" font-style="italic">Беспроводной мост</text>
<text x="184.2" y="470.6" font-size="15.5" textLength="139.3" lengthAdjust="spacingAndGlyphs" text-anchor="start" font-style="italic">Контур заземления</text>
<text x="178" y="771.6" font-size="15.5" textLength="140" lengthAdjust="spacingAndGlyphs" text-anchor="start" font-style="italic">Контур заземления</text>
<text x="801" y="1002.8" font-size="15.5" textLength="140" lengthAdjust="spacingAndGlyphs" text-anchor="start" font-style="italic">Контур заземления</text>
<text x="1474.2" y="957.3" font-size="15.5" textLength="139" lengthAdjust="spacingAndGlyphs" text-anchor="start" font-style="italic">Контур заземления</text>
<text x="513" y="439.8" font-size="15.5" textLength="215" lengthAdjust="spacingAndGlyphs" text-anchor="start" font-style="italic">Соединительный кабель FTP</text>
<text x="517" y="460" font-size="15.5" textLength="238" lengthAdjust="spacingAndGlyphs" text-anchor="start" font-style="italic">не более 60 см. + экранированный</text>
<text x="517" y="479" font-size="15.5" textLength="78" lengthAdjust="spacingAndGlyphs" text-anchor="start" font-style="italic">коннектор</text>
<text x="511" y="538" font-size="15.5" textLength="141" lengthAdjust="spacingAndGlyphs" text-anchor="start" font-style="italic">FTP кабель уличного</text>
<text x="511" y="557.5" font-size="15.5" textLength="199" lengthAdjust="spacingAndGlyphs" text-anchor="start" font-style="italic">исполнения. Длина до 100 м.</text>
<text x="292.8" y="579.5" font-size="17" textLength="67.2" lengthAdjust="spacingAndGlyphs" text-anchor="start">Уличная</text>
<text x="254.7" y="602.8" font-size="17" textLength="105.3" lengthAdjust="spacingAndGlyphs" text-anchor="start">грозозащита</text>
<text x="658.6" y="762.7" font-size="17" textLength="67.6" lengthAdjust="spacingAndGlyphs" text-anchor="start">Уличная</text>
<text x="620.5" y="785.8" font-size="17" textLength="105.7" lengthAdjust="spacingAndGlyphs" text-anchor="start">грозозащита</text>
<text x="1492" y="475.2" font-size="17" textLength="155" lengthAdjust="spacingAndGlyphs" text-anchor="start">Домашний роутер</text>
<text x="1358.5" y="620.8" font-size="17" textLength="120.5" lengthAdjust="spacingAndGlyphs" text-anchor="start">РОЕ-инжектор</text>
<text x="1390.7" y="774.4" font-size="17" textLength="44.5" lengthAdjust="spacingAndGlyphs" text-anchor="start">220 В</text>
</g>
<path d="M334.3,459.3 L342.0,466.9 L334.3,474.6 Z" fill="#629730" stroke="#629730" stroke-width="2.8" stroke-linejoin="round"/>
<path d="M328.3,760.3 L336.0,768.0 L328.3,775.6 Z" fill="#629730" stroke="#629730" stroke-width="2.8" stroke-linejoin="round"/>
<path d="M793.7,991.5 L786.4,998.6 L793.7,1005.7 Z" fill="#629730" stroke="#629730" stroke-width="2.8" stroke-linejoin="round"/>
<path d="M1466.5,945.4 L1458.8,952.5 L1466.5,959.6 Z" fill="#629730" stroke="#629730" stroke-width="2.8" stroke-linejoin="round"/>
<path d="M505.9,434.2 L498.6,441.4 L505.9,448.6 Z" fill="#a961da" stroke="#a961da" stroke-width="2.8" stroke-linejoin="round"/>
<path d="M516.2,565.5 L530.6,565.5 L523.4,572.9 Z" fill="#5c9efa" stroke="#5c9efa" stroke-width="3.2" stroke-linejoin="round"/>
</svg>
</body></html>
